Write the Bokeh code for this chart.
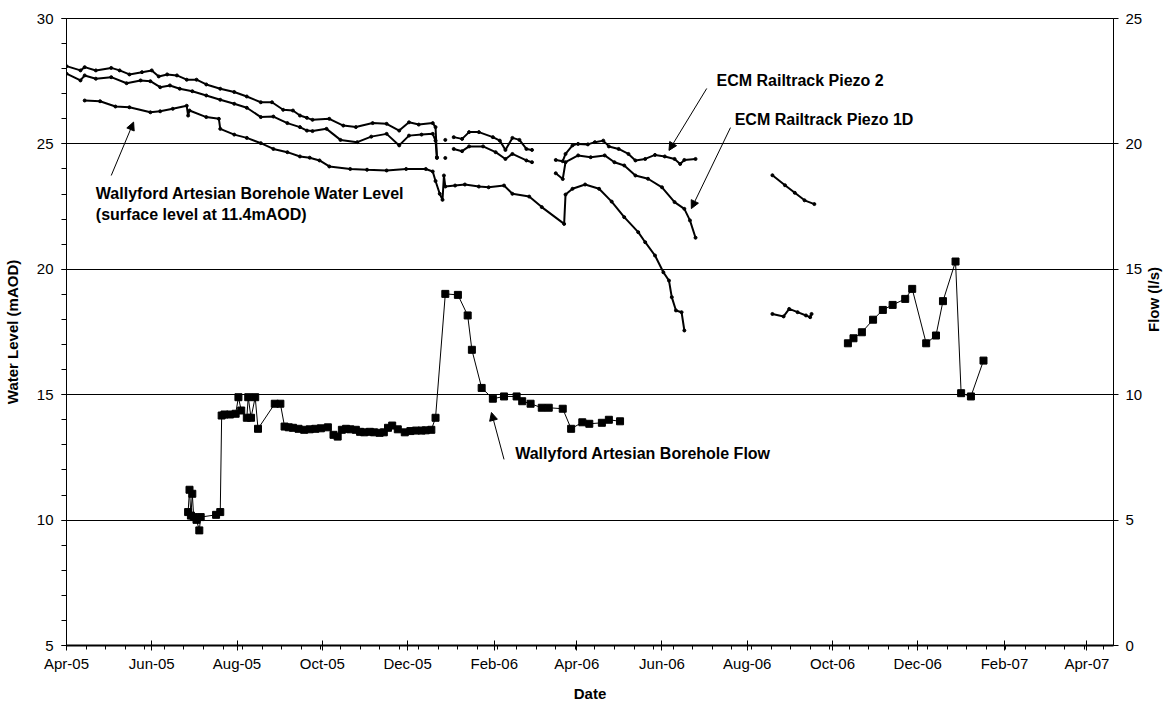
import math
import numpy as np
import pandas as pd
from bokeh.plotting import figure
from bokeh.models import (Range1d, LinearAxis, FixedTicker, SingleIntervalTicker,
                          DatetimeTickFormatter, Label, Arrow, NormalHead, ColumnDataSource)
from bokeh.embed import file_html
from bokeh.resources import INLINE

nan = float("nan")

# ---------------- data ----------------
piezo2_dates = ["2005-04-01", "2005-04-11", "2005-04-14", "2005-04-22", "2005-05-03", "2005-05-09",
                "2005-05-16", "2005-05-25", "2005-06-01", "2005-06-06", "2005-06-12", "2005-06-19",
                "2005-06-26", "2005-07-03", "2005-07-10", "2005-07-20", "2005-07-30", "2005-08-08",
                "2005-08-18", "2005-08-26", "2005-09-03", "2005-09-10", "2005-09-15", "2005-09-20",
                "2005-09-24", "2005-10-06", "2005-10-16", "2005-10-25", "2005-11-06", "2005-11-16",
                "2005-11-25", "2005-12-02", "2005-12-09", "2005-12-19", "2005-12-21", "2005-12-22",
                "2005-12-25", "2005-12-28", "2005-12-31",
                "2006-01-03", "2006-01-09", "2006-01-14", "2006-01-21", "2006-01-31", "2006-02-05",
                "2006-02-09", "2006-02-14", "2006-02-19", "2006-02-24", "2006-02-28",
                "2006-03-08",
                "2006-03-17", "2006-03-22", "2006-03-24", "2006-03-29", "2006-04-02", "2006-04-09",
                "2006-04-14", "2006-04-20", "2006-04-24", "2006-05-01", "2006-05-08", "2006-05-13",
                "2006-05-20", "2006-05-27", "2006-06-03", "2006-06-10", "2006-06-14", "2006-06-17",
                "2006-06-25",
                "2006-07-20",
                "2006-08-19", "2006-08-28", "2006-09-04", "2006-09-11", "2006-09-18"]
piezo2_level = [28.10, 27.93, 28.06, 27.93, 28.03, 27.93,
                27.77, 27.86, 27.93, 27.69, 27.77, 27.73,
                27.56, 27.56, 27.37, 27.20, 27.07, 26.89,
                26.66, 26.66, 26.36, 26.33, 26.13, 26.04,
                25.96, 26.00, 25.73, 25.67, 25.83, 25.80,
                25.53, 25.86, 25.77, 25.83, 25.67, 24.47,
                nan, 25.16, nan,
                25.27, 25.20, 25.47, 25.47, 25.27, 25.13,
                24.76, 25.24, 25.16, 24.80, 24.76,
                nan,
                24.36, 24.31, 24.60, 24.94, 25.00, 24.98,
                25.07, 25.13, 24.90, 24.80, 24.60, 24.34,
                24.40, 24.56, 24.50, 24.40, 24.20, 24.36,
                24.40,
                nan,
                23.75, 23.35, 23.05, 22.75, 22.60]

piezo1d_dates = ["2005-04-01", "2005-04-11", "2005-04-14", "2005-04-22", "2005-05-03", "2005-05-14",
                 "2005-05-24", "2005-05-31", "2005-06-07", "2005-06-14", "2005-06-21", "2005-06-30",
                 "2005-07-10", "2005-07-20", "2005-07-30", "2005-08-08", "2005-08-18", "2005-08-27",
                 "2005-09-06", "2005-09-15", "2005-09-20", "2005-09-24", "2005-10-04", "2005-10-14",
                 "2005-10-26", "2005-11-05", "2005-11-16", "2005-11-25", "2005-12-02", "2005-12-11",
                 "2005-12-19", "2005-12-21", "2005-12-22",
                 "2005-12-25", "2005-12-28", "2005-12-31",
                 "2006-01-03", "2006-01-09", "2006-01-14", "2006-01-24", "2006-02-02", "2006-02-09",
                 "2006-02-14", "2006-02-24", "2006-02-28",
                 "2006-03-08",
                 "2006-03-17", "2006-03-22", "2006-03-24", "2006-04-02", "2006-04-11", "2006-04-21",
                 "2006-04-28", "2006-05-05", "2006-05-13", "2006-05-22", "2006-06-01", "2006-06-10",
                 "2006-06-17", "2006-06-21", "2006-06-25"]
piezo1d_level = [27.80, 27.53, 27.73, 27.60, 27.66, 27.42,
                 27.53, 27.50, 27.26, 27.33, 27.20, 27.10,
                 26.93, 26.76, 26.60, 26.44, 26.07, 26.09,
                 25.83, 25.67, 25.53, 25.51, 25.60, 25.16,
                 25.07, 25.29, 25.40, 24.94, 25.33, 25.37,
                 25.40, 25.13, 24.44,
                 nan, 24.44, nan,
                 24.80, 24.71, 24.90, 24.90, 24.67, 24.40,
                 24.60, 24.34, 24.27,
                 nan,
                 23.83, 23.60, 24.27, 24.54, 24.47, 24.54,
                 24.27, 24.14, 23.74, 23.61, 23.27, 22.68,
                 22.41, 21.95, 21.26]

borehole_dates = ["2005-04-14", "2005-04-25", "2005-05-06", "2005-05-16", "2005-05-31", "2005-06-07",
                  "2005-06-16", "2005-06-26", "2005-06-27", "2005-06-28", "2005-07-10", "2005-07-19",
                  "2005-07-20", "2005-07-30", "2005-08-08", "2005-08-18", "2005-08-27", "2005-09-06",
                  "2005-09-15", "2005-09-22", "2005-09-29", "2005-10-06", "2005-10-21", "2005-11-02",
                  "2005-11-16", "2005-11-30", "2005-12-14", "2005-12-19", "2005-12-21", "2005-12-24",
                  "2005-12-26", "2005-12-27", "2005-12-28", "2006-01-04", "2006-01-11", "2006-01-21",
                  "2006-01-28", "2006-02-08", "2006-02-14", "2006-02-26", "2006-03-07", "2006-03-23",
                  "2006-03-24", "2006-03-29", "2006-04-07", "2006-04-17", "2006-04-26", "2006-05-05",
                  "2006-05-15", "2006-05-20", "2006-05-27", "2006-06-02", "2006-06-06", "2006-06-08",
                  "2006-06-11", "2006-06-15", "2006-06-17",
                  "2006-07-20",
                  "2006-08-19", "2006-08-27", "2006-08-31", "2006-09-06", "2006-09-12", "2006-09-15",
                  "2006-09-16"]
borehole_level = [26.73, 26.70, 26.49, 26.46, 26.26, 26.30,
                  26.40, 26.52, 26.13, 26.33, 26.07, 26.00,
                  25.60, 25.37, 25.24, 25.03, 24.80, 24.67,
                  24.50, 24.45, 24.34, 24.10, 24.00, 23.97,
                  23.94, 24.00, 24.00, 23.90, 23.52, 23.01,
                  22.77, 23.74, 23.30, 23.34, 23.38, 23.30,
                  23.27, 23.34, 23.01, 22.90, 22.48, 21.81,
                  22.98, 23.21, 23.38, 23.21, 22.70, 22.08,
                  21.48, 21.08, 20.55, 19.88, 19.55, 18.89,
                  18.36, 18.29, 17.56,
                  nan,
                  18.22, 18.12, 18.42, 18.29, 18.16, 18.09,
                  18.22]

flow_dates = ["2005-06-27", "2005-06-28", "2005-06-29", "2005-06-30", "2005-07-01", "2005-07-03",
              "2005-07-05", "2005-07-06", "2005-07-17", "2005-07-20", "2005-07-21", "2005-07-23",
              "2005-07-27", "2005-07-31", "2005-08-02", "2005-08-04", "2005-08-08", "2005-08-09",
              "2005-08-11", "2005-08-14", "2005-08-16", "2005-08-28", "2005-09-01", "2005-09-04",
              "2005-09-07", "2005-09-10", "2005-09-14", "2005-09-18", "2005-09-22", "2005-09-26",
              "2005-09-30", "2005-10-05", "2005-10-09", "2005-10-12", "2005-10-15", "2005-10-18",
              "2005-10-21", "2005-10-25", "2005-10-28", "2005-10-31", "2005-11-04", "2005-11-07",
              "2005-11-11", "2005-11-14", "2005-11-17", "2005-11-20", "2005-11-24", "2005-11-29",
              "2005-12-03", "2005-12-07", "2005-12-11", "2005-12-14", "2005-12-18", "2005-12-21",
              "2005-12-28", "2006-01-06", "2006-01-13", "2006-01-16", "2006-01-23", "2006-01-31",
              "2006-02-08", "2006-02-17", "2006-02-21", "2006-02-27", "2006-03-07", "2006-03-12",
              "2006-03-22", "2006-03-28", "2006-04-05", "2006-04-10", "2006-04-19", "2006-04-24",
              "2006-05-02",
              "2006-07-01",
              "2006-10-12", "2006-10-16", "2006-10-22", "2006-10-30", "2006-11-06", "2006-11-13",
              "2006-11-22", "2006-11-27", "2006-12-07", "2006-12-14", "2006-12-19", "2006-12-28",
              "2007-01-01", "2007-01-08", "2007-01-17"]
flow_ls = [5.32, 6.21, 5.18, 6.05, 5.12, 5.01,
           4.59, 5.12, 5.21, 5.32, 9.17, 9.21,
           9.21, 9.24, 9.90, 9.37, 9.08, 9.90,
           9.08, 9.90, 8.64, 9.64, 9.64, 8.73,
           8.70, 8.68, 8.64, 8.60, 8.62, 8.64,
           8.66, 8.70, 8.40, 8.33, 8.60, 8.64,
           8.62, 8.60, 8.52, 8.50, 8.52, 8.50,
           8.48, 8.50, 8.68, 8.77, 8.62, 8.50,
           8.55, 8.57, 8.57, 8.58, 8.60, 9.08,
           14.02, 13.98, 13.16, 11.79, 10.27, 9.84,
           9.93, 9.93, 9.74, 9.64, 9.48, 9.48,
           9.44, 8.64, 8.90, 8.84, 8.88, 9.00,
           8.94,
           nan,
           12.05, 12.25, 12.49, 12.99, 13.38, 13.58,
           13.82, 14.22, 12.05, 12.36, 13.73, 15.31,
           10.06, 9.93, 11.36]

# annotations (data coordinates)
label_texts = ["ECM Railtrack Piezo 2", "ECM Railtrack Piezo 1D",
               "Wallyford Artesian Borehole Water Level", "(surface level at 11.4mAOD)",
               "Wallyford Artesian Borehole Flow"]
label_dates = ["2006-07-10", "2006-07-23", "2005-04-22", "2005-04-22", "2006-02-16"]
label_levels = [27.53, 25.97, 23.02, 22.18, 12.66]

arrow_start_dates = ["2006-07-03", "2006-07-20", "2005-05-03", "2006-02-08"]
arrow_start_levels = [27.21, 25.65, 23.74, 12.42]
arrow_end_dates = ["2006-06-06", "2006-06-22", "2005-05-19", "2006-01-30"]
arrow_end_levels = [24.74, 22.42, 25.87, 14.29]

x_start, x_end = "2005-04-01", "2007-04-20"
level_range = (5, 30)
flow_range = (0, 25)


def ms(s):
    return pd.Timestamp(s).value / 1e6


FONT = "Liberation Sans"

p = figure(width=1173, height=704, x_axis_type="datetime",
           x_range=Range1d(ms(x_start), ms(x_end)), y_range=Range1d(*level_range),
           output_backend="svg", toolbar_location=None,
           min_border_left=66, min_border_right=57, min_border_top=18, min_border_bottom=59)
p.background_fill_color = "white"
p.border_fill_color = "white"
p.outline_line_color = "black"
p.outline_line_width = 1

p.extra_y_ranges = {"flow": Range1d(*flow_range)}

# x axis
major = [t.value / 1e6 for t in pd.date_range("2005-04-01", "2007-04-01", freq="2MS")]
minor = [t.value / 1e6 for t in pd.date_range(x_start, x_end, freq="14D")]
xa = p.xaxis[0]
xa.ticker = FixedTicker(ticks=major, minor_ticks=minor)
fmt = "%b-%y"
xa.formatter = DatetimeTickFormatter(months=fmt, days=fmt, years=fmt, hours=fmt,
                                     minutes=fmt, seconds=fmt, milliseconds=fmt,
                                     microseconds=fmt, minsec=fmt, hourmin=fmt)
xa.axis_label = "Date"
xa.major_tick_in = 5
xa.major_tick_out = 5
xa.minor_tick_in = 0
xa.minor_tick_out = 4
xa.axis_line_width = 2
xa.major_label_standoff = 4
xa.axis_label_standoff = 10

# left axis
ya = p.yaxis[0]
ya.ticker = SingleIntervalTicker(interval=5, num_minor_ticks=5)
ya.axis_label = "Water Level (mAOD)"
ya.major_tick_in = 0
ya.major_tick_out = 5
ya.minor_tick_in = 0
ya.minor_tick_out = 5
ya.major_label_standoff = 8
ya.axis_label_standoff = 13

# right axis
ra = LinearAxis(y_range_name="flow", ticker=SingleIntervalTicker(interval=5, num_minor_ticks=0),
                axis_label="Flow (l/s)")
ra.major_tick_in = 0
ra.major_tick_out = 5
ra.minor_tick_out = 0
ra.minor_tick_in = 0
ra.major_label_standoff = 7
ra.axis_label_standoff = 8
ra.axis_label_orientation = math.pi / 2
p.add_layout(ra, "right")

for ax in [xa, ya, ra]:
    ax.axis_line_color = "black"
    ax.major_tick_line_color = "black"
    ax.minor_tick_line_color = "black"
    ax.major_label_text_font = FONT
    ax.major_label_text_font_size = "15px"
    ax.major_label_text_color = "black"
    ax.axis_label_text_font = FONT
    ax.axis_label_text_font_size = "15px"
    ax.axis_label_text_font_style = "bold"
    ax.axis_label_text_color = "black"

p.xgrid.visible = False
p.ygrid.grid_line_color = "black"
p.ygrid.grid_line_width = 1

# series
def src(dates, vals):
    return ColumnDataSource(dict(x=pd.to_datetime(dates), y=np.array(vals, dtype=float)))

for d, v in [(piezo2_dates, piezo2_level), (piezo1d_dates, piezo1d_level),
             (borehole_dates, borehole_level)]:
    s = src(d, v)
    p.line("x", "y", source=s, line_color="black", line_width=2)
    p.scatter("x", "y", source=s, marker="circle", size=3, color="black")

fs = src(flow_dates, flow_ls)
p.line("x", "y", source=fs, line_color="black", line_width=1, y_range_name="flow")
p.scatter("x", "y", source=fs, marker="square", size=7, color="black", y_range_name="flow")

# annotations
for t, d, lv in zip(label_texts, label_dates, label_levels):
    p.add_layout(Label(x=ms(d), y=lv, text=t, text_font=FONT, text_font_size="16px",
                       text_font_style="bold", text_color="black",
                       text_align="left", text_baseline="middle"))

for sd, sl, ed, el in zip(arrow_start_dates, arrow_start_levels, arrow_end_dates, arrow_end_levels):
    p.add_layout(Arrow(x_start=ms(sd), y_start=sl, x_end=ms(ed), y_end=el,
                       line_color="black", line_width=1,
                       end=NormalHead(size=8, fill_color="black", line_color="black")))

open("out.html", "w").write(file_html(p, INLINE))
